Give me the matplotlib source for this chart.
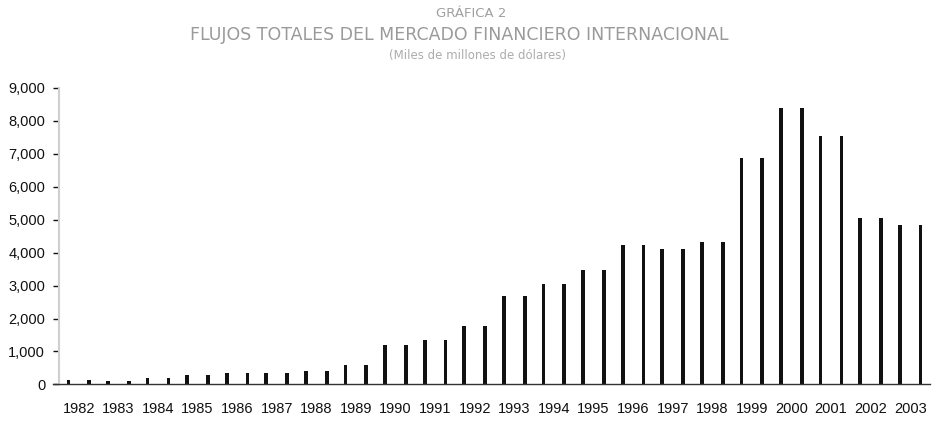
import matplotlib
matplotlib.use("Agg")
import matplotlib.pyplot as plt
import numpy as np
from matplotlib.ticker import FuncFormatter

years = [str(y) for y in range(1982, 2004)]
flows = [140, 100, 190, 270, 350, 345, 400, 590, 1210, 1340, 1760, 2690,
         3060, 3460, 4230, 4100, 4320, 6860, 8380, 7550, 5060, 4840]

title_lines = ["GRÁFICA 2",
               "FLUJOS TOTALES DEL MERCADO FINANCIERO INTERNACIONAL",
               "(Miles de millones de dólares)"]

plt.rcParams["font.family"] = ["Liberation Sans", "DejaVu Sans"]

fig = plt.figure(figsize=(9.37, 4.21), dpi=100)
ax = fig.add_axes([0.063, 0.087, 0.9295, 0.704])

x = np.arange(len(years))
bar_w = 0.62
side_w = 0.095

# hollow columns: white body with heavy dark sides
ax.bar(x, flows, width=bar_w, color="white", edgecolor="none", zorder=1)
ax.bar(x - bar_w / 2 + side_w / 2, flows, width=side_w, color="#111111",
       edgecolor="none", zorder=2)
ax.bar(x + bar_w / 2 - side_w / 2, flows, width=side_w, color="#111111",
       edgecolor="none", zorder=2)

ax.set_xlim(-0.5, len(years) - 0.5)
ax.set_ylim(0, 9000)
ax.set_yticks(np.arange(0, 9001, 1000))
ax.yaxis.set_major_formatter(FuncFormatter(lambda v, p: f"{int(v):,}"))
ax.set_xticks(x)
ax.set_xticklabels(years)

ax.tick_params(axis="x", length=0, pad=13, labelsize=10.5, colors="#111111")
ax.tick_params(axis="y", length=4, width=1, direction="out", pad=6,
               labelsize=10.5, colors="#111111")

for s in ("top", "right"):
    ax.spines[s].set_visible(False)
ax.spines["left"].set_color("#cfcfcf")
ax.spines["left"].set_linewidth(1.5)
ax.spines["bottom"].set_color("#333333")
ax.spines["bottom"].set_linewidth(1.0)
ax.spines["bottom"].set_bounds(-0.65, len(years) - 0.5)

fig.text(0.503, 0.968, title_lines[0], ha="center", va="center",
         fontsize=9.5, color="#a0a0a0", family="DejaVu Sans")
fig.text(0.490, 0.917, title_lines[1], ha="center", va="center",
         fontsize=12.5, color="#9a9a9a", family="DejaVu Sans")
fig.text(0.510, 0.868, title_lines[2], ha="center", va="center",
         fontsize=8.5, color="#acacac", family="DejaVu Sans")

fig.savefig("out.png", dpi=100, facecolor="white")
